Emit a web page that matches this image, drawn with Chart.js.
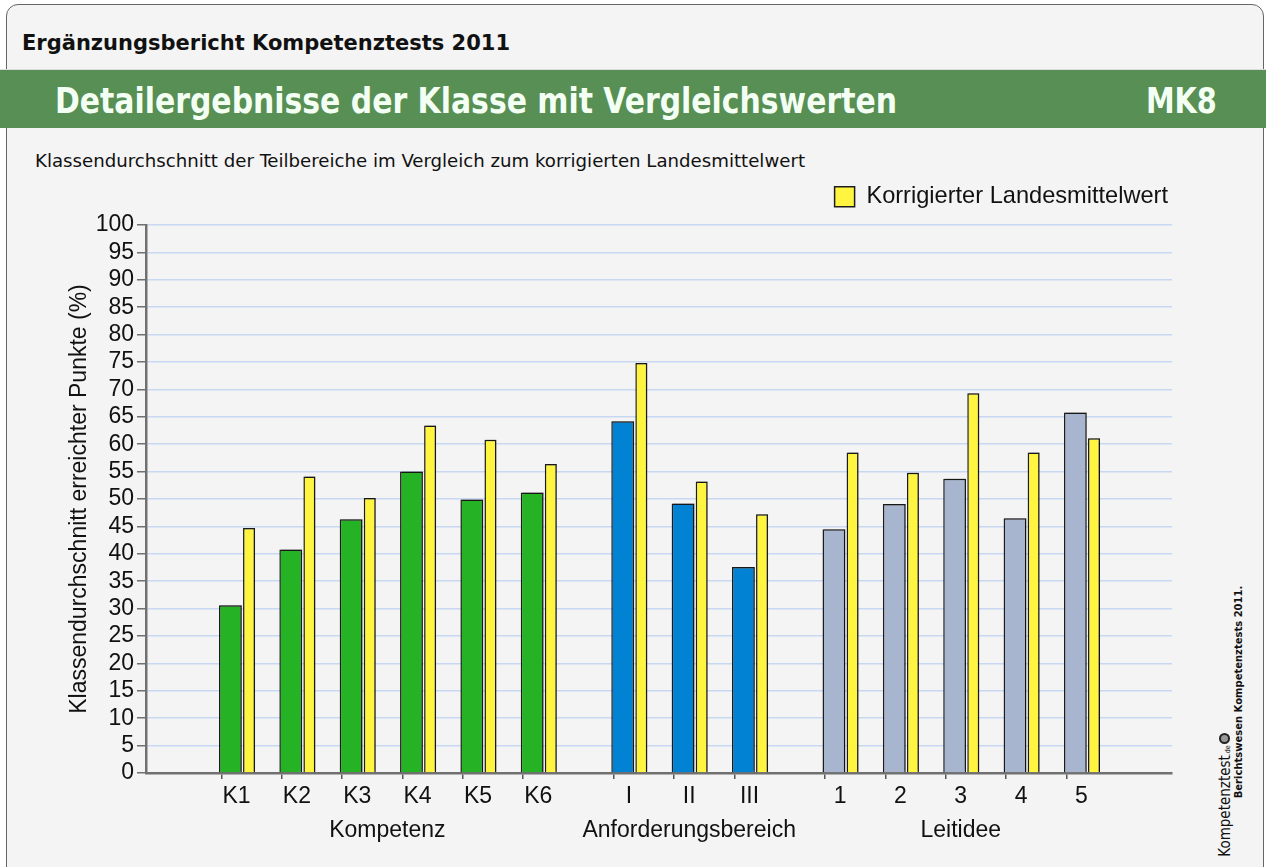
<html>
<head>
  <meta charset="utf-8">
  <title>Detailergebnisse der Klasse mit Vergleichswerten</title>
  <script src="https://cdn.jsdelivr.net/npm/chart.js@4.4.0/dist/chart.umd.min.js"></script>
  <style>
    body { margin: 0; width: 1266px; height: 867px; background: #fff; overflow: hidden; position: relative; }
    .card { position: absolute; left: 6px; top: 4px; width: 1256px; height: 900px; border: 1.5px solid #666; border-radius: 12px; background: #f4f4f4; overflow: hidden; }
    .kopf { position: absolute; left: 22px; top: 30px; font: bold 22px 'DejaVu Sans Condensed', 'DejaVu Sans', sans-serif; font-stretch: condensed; color: #111; white-space: nowrap; }
    .linie { position: absolute; left: 0; top: 69px; width: 1266px; height: 1px; background: #dcdcdc; }
    .band { position: absolute; left: 0; top: 70px; width: 1266px; height: 58px; background: #588f54; }
    .titel { position: absolute; left: 55px; top: 80px; font: bold 36px 'DejaVu Sans Condensed', 'DejaVu Sans', sans-serif; font-stretch: condensed; color: #f4fff4; white-space: nowrap; }
    .mk { position: absolute; right: 49px; top: 80px; font: bold 36px 'DejaVu Sans Condensed', 'DejaVu Sans', sans-serif; font-stretch: condensed; color: #f4fff4; }
    .unter { position: absolute; left: 35px; top: 150px; font: 18px 'DejaVu Sans Condensed', 'DejaVu Sans', sans-serif; font-stretch: condensed; color: #111; white-space: nowrap; }
    .vert { position: absolute; transform: translate(-50%, -50%) rotate(-90deg); white-space: nowrap; color: #111; }
    .quelle { left: 1238px; top: 692px; font: bold 10px 'DejaVu Sans', sans-serif; }
    .logo { left: 1225px; top: 801px; font: 15px 'DejaVu Sans Condensed', 'DejaVu Sans', sans-serif; font-stretch: condensed; }
    .logo small { font-size: 7px; }
    .kringel { position: absolute; left: 1219px; top: 733px; width: 7px; height: 7px; border: 2.5px solid #222; border-radius: 50%; background: #999; }
    #wrap { position: absolute; left: 0; top: 0; width: 1266px; height: 867px; }
  </style>
</head>
<body>
<div class="card">
</div>
<div class="kopf" data-w="488">Ergänzungsbericht Kompetenztests 2011</div>
<div class="linie"></div>
<div class="band"></div>
<div class="titel" data-w="842">Detailergebnisse der Klasse mit Vergleichswerten</div>
<div class="mk" data-w="71" data-r="1">MK8</div>
<div class="unter" data-w="770">Klassendurchschnitt der Teilbereiche im Vergleich zum korrigierten Landesmittelwert</div>
<div class="vert quelle">Berichtswesen Kompetenztests 2011.</div>
<div class="vert logo">Kompetenztest<small>.de</small></div>
<div class="kringel"></div>
<div id="wrap"><canvas id="chart"></canvas></div>

<script>
  // Teilbereiche
  const kompetenz = ['K1', 'K2', 'K3', 'K4', 'K5', 'K6']
  const anforderung = ['I', 'II', 'III']
  const leitidee = ['1', '2', '3', '4', '5']
  const gruppen = ['Kompetenz', 'Anforderungsbereich', 'Leitidee']

  // Klassendurchschnitt (%)
  const klasseKompetenz = [30.6, 40.8, 46.3, 55.0, 49.9, 51.2]
  const klasseAnforderung = [64.2, 49.2, 37.6]
  const klasseLeitidee = [44.5, 49.1, 53.7, 46.5, 65.8]

  // korrigierter Landesmittelwert (%)
  const landKompetenz = [44.7, 54.1, 50.2, 63.4, 60.8, 56.4]
  const landAnforderung = [74.8, 53.2, 47.2]
  const landLeitidee = [58.5, 54.8, 69.3, 58.5, 61.1]

  const yMin = 0, yMax = 100, yStep = 5

  const farben = ['#25b225', '#0282d2', '#a7b5cf']
  const gelb = '#fff541'

  // Kopfzeilen auf die Breite der Vorlage bringen
  document.querySelectorAll('[data-w]').forEach(el => {
    let w = el.getBoundingClientRect().width
    el.style.transformOrigin = el.dataset.r ? 'right center' : 'left center'
    el.style.transform = 'scaleX(' + (el.dataset.w / w) + ')'
  })

  // Kategorien mit Leerplätzen zwischen den Balkenpaaren aufbauen
  let labels = [], gruppenLabels = [], klasse = [], land = [], klasseFarben = []
  function leer(n) {
    for (let i = 0; i < n; i++) {
      labels.push(''); gruppenLabels.push(''); klasse.push(null); land.push(null); klasseFarben.push(null)
    }
  }
  const teile = [
    [kompetenz, klasseKompetenz, landKompetenz],
    [anforderung, klasseAnforderung, landAnforderung],
    [leitidee, klasseLeitidee, landLeitidee]
  ]
  leer(3)
  teile.forEach((t, g) => {
    if (g > 0) leer(2)
    let start = labels.length
    t[0].forEach((name, j) => {
      if (j > 0) leer(1)
      labels.push(name); gruppenLabels.push(''); klasse.push(t[1][j]); land.push(t[2][j]); klasseFarben.push(farben[g])
    })
    gruppenLabels[(start + labels.length - 1) / 2] = gruppen[g]
  })
  leer(3)

  Chart.defaults.font.family = "'Liberation Sans', Arial, sans-serif"
  Chart.defaults.font.size = 23
  Chart.defaults.color = '#111'

  const schatten = {
    id: 'schatten',
    beforeDatasetsDraw(chart) {
      let ctx = chart.ctx
      ctx.save()
      ctx.shadowColor = 'rgba(0,0,0,0.35)'
      ctx.shadowBlur = 1.5
      ctx.shadowOffsetX = 1.5
      ctx.shadowOffsetY = -1
    },
    afterDatasetsDraw(chart) {
      chart.ctx.restore()
    },
    beforeLayout(chart) {
      let lg = chart.legend
      if (lg && !lg._fest) {
        let fit = lg.fit
        lg.fit = function () {
          fit.call(this)
          this.height = 44
        }
        lg._fest = true
      }
    }
  }

  new Chart(document.getElementById('chart'), {
    type: 'bar',
    data: {
      labels: labels,
      datasets: [
        {
          label: 'Klassendurchschnitt',
          data: klasse,
          backgroundColor: klasseFarben,
          borderColor: '#1c1c1c',
          borderWidth: 1.5,
          categoryPercentage: 0.81,
          barPercentage: 1.87
        },
        {
          label: 'Korrigierter Landesmittelwert',
          data: land,
          backgroundColor: gelb,
          borderColor: '#1c1c1c',
          borderWidth: 1.5,
          categoryPercentage: 1.66,
          barPercentage: 0.48
        }
      ]
    },
    plugins: [schatten],
    options: {
      responsive: true,
      maintainAspectRatio: false,
      animation: false,
      layout: { padding: { left: 62, right: 94, top: 181, bottom: 16 } },
      plugins: {
        legend: {
          position: 'top',
          align: 'end',
          labels: {
            boxWidth: 20,
            boxHeight: 20,
            padding: 4,
            font: { size: 23.6 },
            filter: item => item.datasetIndex === 1
          }
        },
        tooltip: { enabled: false }
      },
      scales: {
        x: {
          offset: false,
          weight: 0,
          grid: {
            drawOnChartArea: false,
            tickLength: 6,
            lineWidth: 1.5,
            tickColor: ctx => labels[ctx.index] ? '#555' : 'rgba(0,0,0,0)'
          },
          border: { color: '#707070', width: 2.5 },
          ticks: { autoSkip: false, maxRotation: 0, minRotation: 0, padding: 4 },
          afterFit: s => { s.height = 38 }
        },
        x2: {
          type: 'category',
          position: 'bottom',
          labels: gruppenLabels,
          offset: false,
          weight: 1,
          grid: { display: false, drawTicks: false },
          border: { display: false },
          ticks: { autoSkip: false, maxRotation: 0, minRotation: 0, padding: 6 },
          afterFit: s => { s.height = 40 }
        },
        y: {
          min: yMin,
          max: yMax,
          ticks: { stepSize: yStep, padding: 3, autoSkip: false },
          grid: { color: '#c9d8f2', lineWidth: 1.5, tickLength: 9, tickColor: '#707070' },
          border: { color: '#707070', width: 2.5 },
          title: { display: true, text: 'Klassendurchschnitt erreichter Punkte (%)', font: { size: 23 } },
          afterFit: s => { s.width = 84 }
        }
      }
    }
  })
</script>
</body>
</html>
